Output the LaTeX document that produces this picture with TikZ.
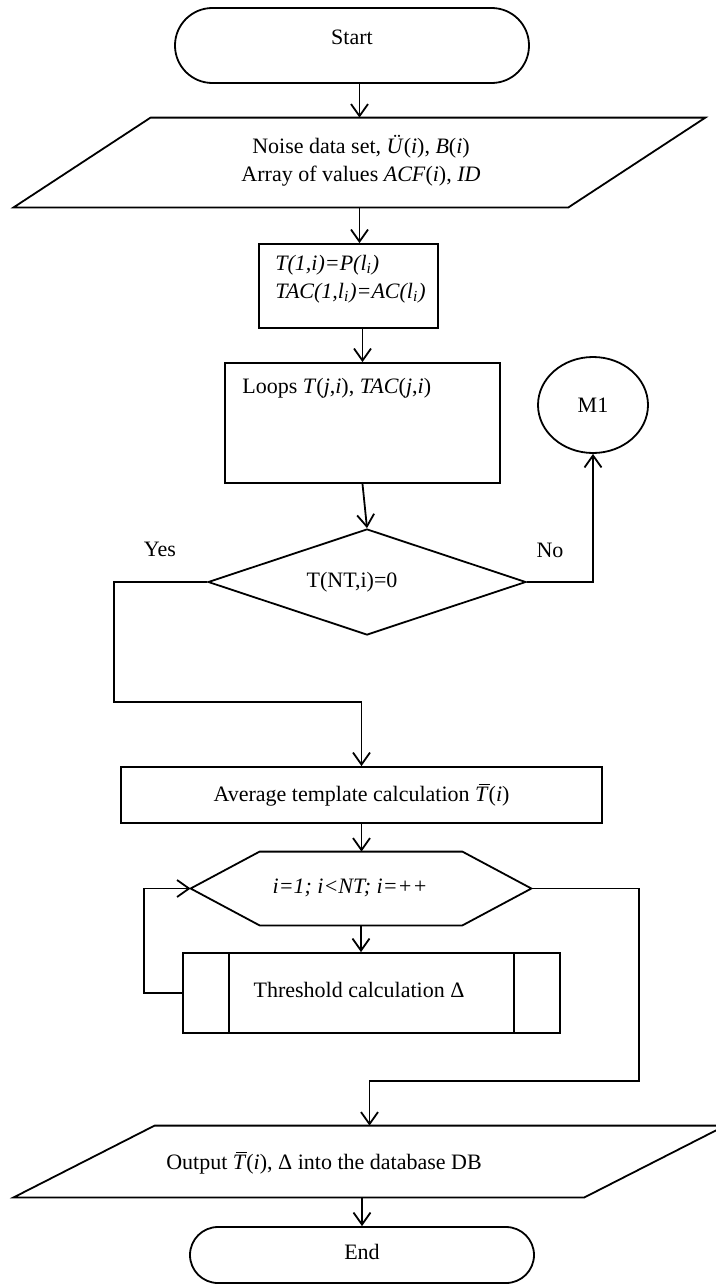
\documentclass[tikz,border=0pt]{standalone}
\usepackage{fontspec}
\setmainfont{Liberation Serif}
\usetikzlibrary{arrows.meta,calc,shapes.geometric}
% T with an overbar (mean template)
\newcommand{\Tbar}{\makebox[0pt][l]{\hspace{0.16em}\rule[0.78em]{0.5em}{0.05em}}\textit{T}}

\begin{document}
\begin{tikzpicture}[x=0.5pt,y=-0.5pt,
  every node/.style={font=\fontsize{11}{14}\selectfont, inner sep=0pt},
  flowline/.style={line width=0.9pt},
  flowarrow/.style={line width=0.9pt, -{Straight Barb[length=6pt,width=8.5pt,line width=0.9pt]}},
  termbox/.style={draw, line width=0.9pt, rectangle},
  procbox/.style={draw, line width=0.9pt, rectangle},
  plainframe/.style={rectangle}]

\fill[white] (0,0) rectangle (716,1285);
\useasboundingbox (0,0) rectangle (716,1285);

% Start
\node[termbox, minimum width=177pt, minimum height=37.5pt, rounded corners=18.7pt] (start) at (352,45.5) {};
\node (startlbl) at (352,37) {Start};

% Input data (parallelogram)
\node[plainframe, minimum width=345.5pt, minimum height=44.5pt] (inp) at (359.5,162.5) {};
\draw[flowline] ($(inp.north west)+(137,0)$) -- (inp.north east) -- ($(inp.south east)-(137,0)$) -- (inp.south west) -- cycle;
\node[align=center] (inplbl) at (361,161) {Noise data set, \textit{Ü}(\textit{i}), \textit{B}(\textit{i})\\Array of values \textit{ACF}(\textit{i}), \textit{ID}};

% Initialisation
\node[procbox, minimum width=89.5pt, minimum height=42pt] (init) at (348.5,286) {};
\node[anchor=west, align=left, font=\fontsize{11}{14}\selectfont\itshape] (initlbl) at (275,279)
  {T(1,i)=P(l\textsubscript{i})\\TAC(1,l\textsubscript{i})=AC(l\textsubscript{i})};

% Loops
\node[procbox, minimum width=137.5pt, minimum height=60pt] (loops) at (362.5,423) {};
\node[anchor=west] (loopslbl) at (242,388) {Loops \textit{T}(\textit{j},\textit{i}), \textit{TAC}(\textit{j},\textit{i})};

% Connector M1
\node[draw, line width=0.9pt, ellipse, minimum width=55pt, minimum height=48pt] (m1) at (593,405) {M1};

% Decision
\node[draw, line width=0.9pt, diamond, minimum width=159pt, minimum height=53pt] (dec) at (367,582) {};
\node (declbl) at (352,582) {T(NT,i)=0};
\node (yes) at (160,549) {Yes};
\node (no) at (550,550) {No};

% Average template
\node[procbox, minimum width=240.5pt, minimum height=28pt] (avg) at (361.5,795) {Average template calculation \Tbar(\textit{i})};

% Loop header (hexagon)
\node[plainframe, minimum width=170pt, minimum height=36.5pt] (hex) at (361,888.5) {};
\draw[flowline] (hex.west) -- ($(hex.north west)+(69,0)$) -- ($(hex.north east)-(69,0)$) -- (hex.east)
  -- ($(hex.south east)-(69,0)$) -- ($(hex.south west)+(69,0)$) -- cycle;
\node[font=\fontsize{11}{14}\selectfont\itshape] (hexlbl) at (350,888) {i=1; i<NT; i=++};

% Threshold (predefined process)
\node[procbox, minimum width=188.5pt, minimum height=40pt] (thr) at (371.5,993) {};
\draw[flowline] ($(thr.north west)+(47,0)$) -- ($(thr.south west)+(47,0)$);
\draw[flowline] ($(thr.north east)-(47,0)$) -- ($(thr.south east)-(47,0)$);
\node (thrlbl) at (359,990) {Threshold calculation Δ};

% Output (parallelogram)
\node[plainframe, minimum width=355.5pt, minimum height=35.5pt] (out) at (369.5,1161.5) {};
\draw[flowline] ($(out.north west)+(141,0)$) -- (out.north east) -- ($(out.south east)-(141,0)$) -- (out.south west) -- cycle;
\node (outlbl) at (324,1163) {Output \Tbar(\textit{i}), Δ into the database DB};

% End
\node[termbox, minimum width=172pt, minimum height=28pt, rounded corners=14pt] (end) at (362,1255) {};
\node (endlbl) at (362,1252) {End};

% Bend points
\coordinate (yc) at (114,702);
\coordinate (lb) at (144,993);
\coordinate (rc) at (639,1081);

% Connectors
\draw[flowarrow] (inp.north |- start.south) -- (inp.north);
\draw[flowarrow] (inp.south) -- (inp.south |- init.north);
\draw[flowarrow] (loops.north |- init.south) -- (loops.north);
\draw[flowarrow] (loops.south) -- (dec.north);
\draw[flowarrow] (dec.west) -| (yc) -| (avg.north);
\draw[flowarrow] (dec.east) -| (m1.south);
\draw[flowarrow] (avg.south) -- (avg.south |- hex.north);
\draw[flowarrow] (hex.south) -- (hex.south |- thr.north);
\draw[flowarrow] (thr.west) -- (lb) |- (hex.west);
\draw[flowarrow] (hex.east) -| (rc) -| (out.north);
\draw[flowarrow] (end.north |- out.south) -- (end.north);
\end{tikzpicture}
\end{document}
